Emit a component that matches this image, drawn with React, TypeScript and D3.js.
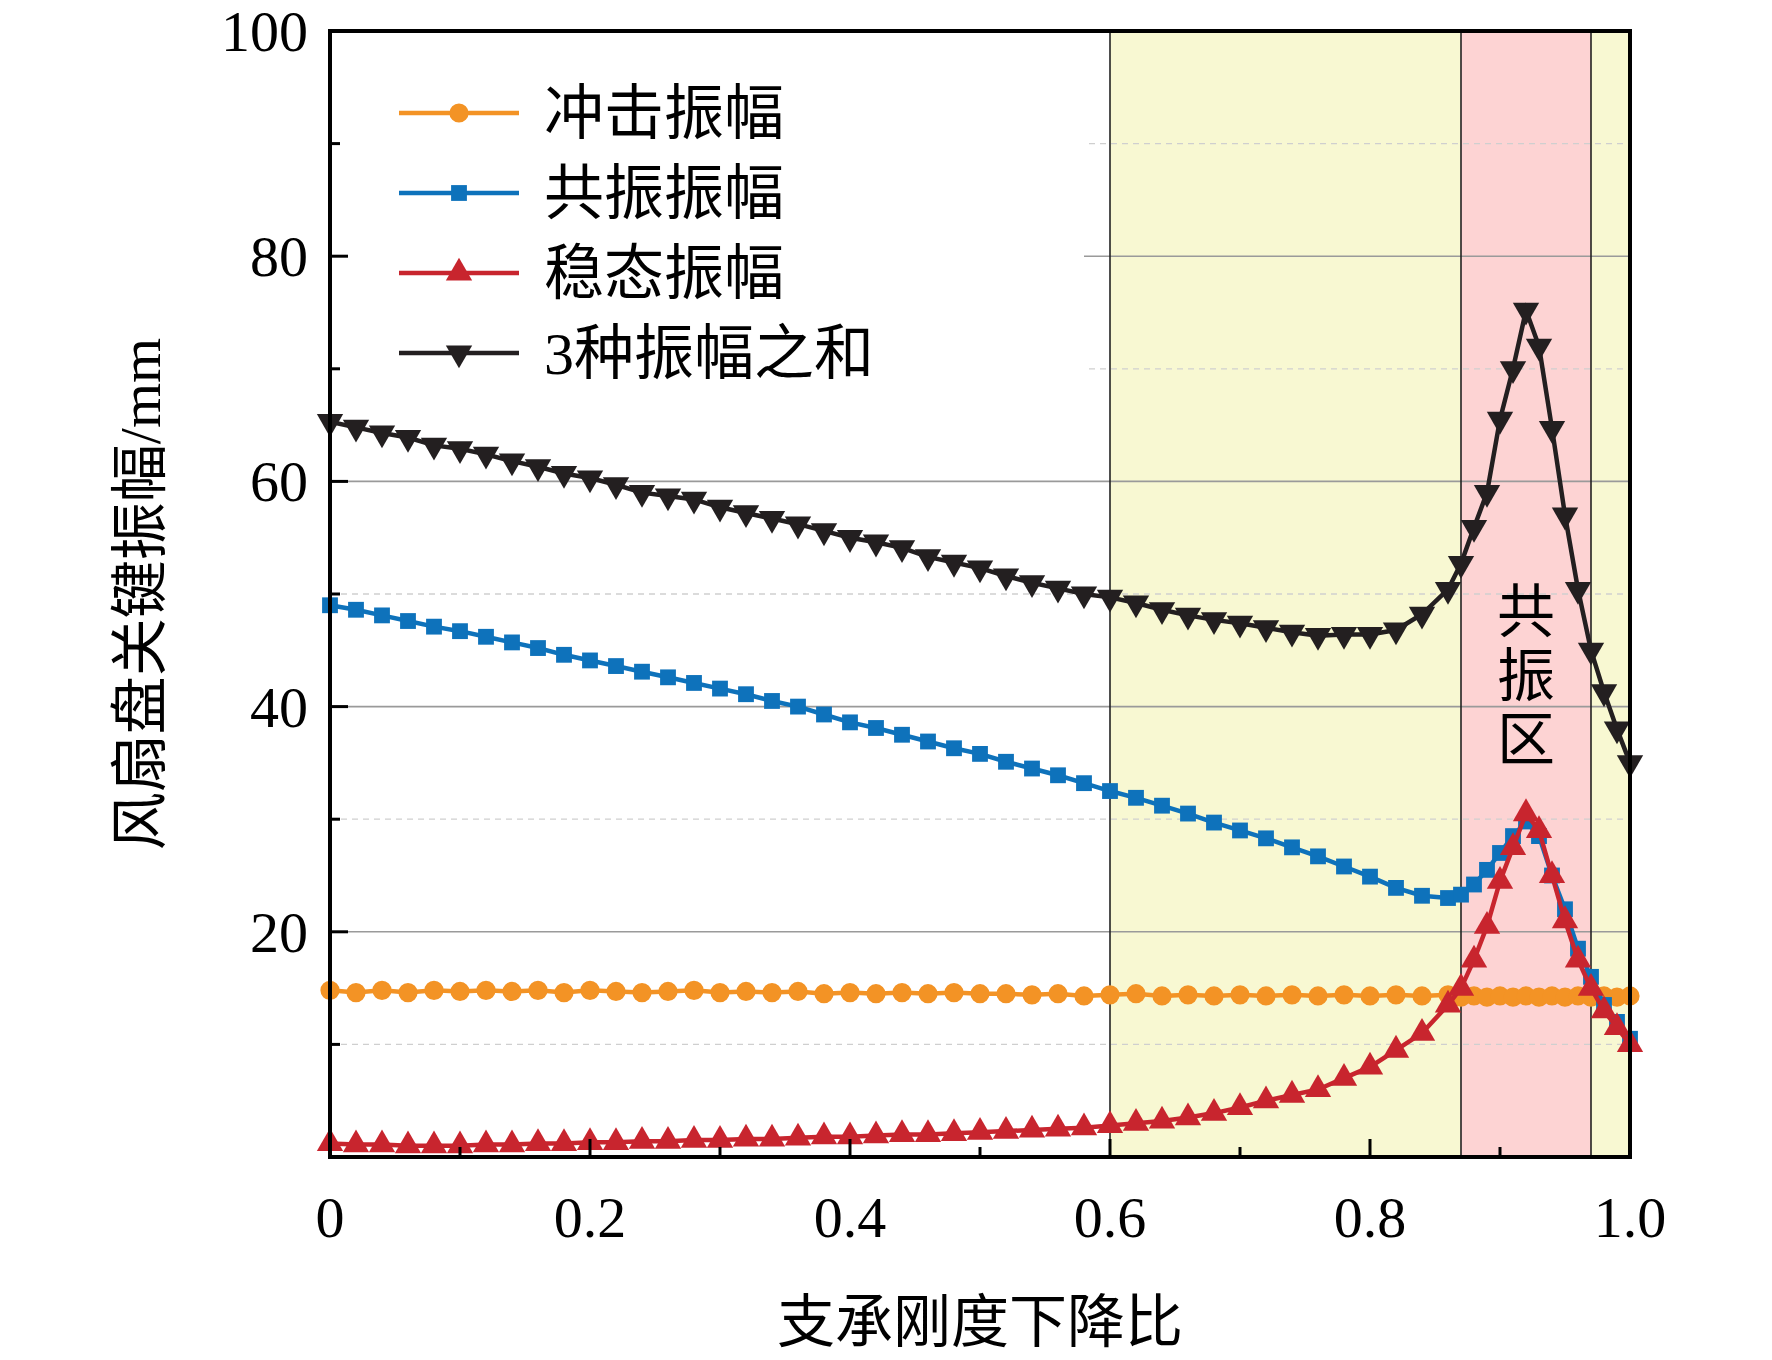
import React from "react";
import * as d3 from "d3";

const xVals = [0,0.02,0.04,0.06,0.08,0.1,0.12,0.14,0.16,0.18,0.2,0.22,0.24,0.26,0.28,0.3,0.32,0.34,0.36,0.38,0.4,0.42,0.44,0.46,0.48,0.5,0.52,0.54,0.56,0.58,0.6,0.62,0.64,0.66,0.68,0.7,0.72,0.74,0.76,0.78,0.8,0.82,0.84,0.86,0.87,0.88,0.89,0.9,0.91,0.92,0.93,0.94,0.95,0.96,0.97,0.98,0.99,1.0];
const impact = [14.8,14.6,14.8,14.6,14.8,14.7,14.8,14.7,14.8,14.6,14.8,14.7,14.6,14.7,14.8,14.6,14.7,14.6,14.7,14.5,14.6,14.5,14.6,14.5,14.6,14.5,14.5,14.4,14.5,14.3,14.4,14.5,14.3,14.4,14.3,14.4,14.3,14.4,14.3,14.4,14.3,14.4,14.3,14.4,14.2,14.3,14.2,14.3,14.2,14.3,14.2,14.3,14.2,14.3,14.2,14.3,14.2,14.3];
const resonance = [49,48.6,48.1,47.6,47.1,46.7,46.2,45.7,45.2,44.6,44.1,43.6,43.1,42.6,42.1,41.6,41.1,40.5,40,39.3,38.6,38.1,37.5,36.9,36.3,35.8,35.1,34.5,33.9,33.2,32.5,31.9,31.2,30.5,29.7,29,28.3,27.5,26.7,25.8,24.9,23.9,23.2,23,23.3,24.2,25.5,27,28.5,29.8,28.5,25,22,18.5,16,13.5,12,10.5];
const steady = [1.2,1.1,1.1,1.0,1.0,1.0,1.1,1.1,1.2,1.2,1.3,1.3,1.4,1.4,1.5,1.5,1.6,1.6,1.7,1.8,1.8,1.9,2.0,2.0,2.1,2.2,2.3,2.4,2.5,2.6,2.8,3.0,3.2,3.5,3.9,4.4,5.0,5.5,6.0,7.0,8.0,9.5,11,13.5,15,17.5,20.5,24.5,27.5,30.5,29,25,21,17.5,15,13,11.5,10];
const total = [65.3,64.8,64.3,63.9,63.2,62.9,62.4,61.8,61.3,60.7,60.3,59.7,59,58.7,58.4,57.7,57.2,56.7,56.2,55.6,55,54.6,54.1,53.3,52.8,52.3,51.6,51,50.5,50,49.7,49.2,48.6,48.1,47.7,47.4,47,46.6,46.3,46.4,46.4,46.8,48.2,50.4,52.7,55.9,59,65.5,70,75.2,72,64.7,57,50.4,45,41.3,38,35];
const seriesNames = ["冲击振幅", "共振振幅", "稳态振幅", "3种振幅之和"];
const xTicks = [0, 0.2, 0.4, 0.6, 0.8, 1.0];
const yTicks = [20, 40, 60, 80, 100];
const yellowZone = [0.6, 1.0];
const pinkZone = [0.87, 0.97];

const L = 330, R = 1630, T = 31, B = 1157;
const x = d3.scaleLinear().domain([0, 1]).range([L, R]);
const y = d3.scaleLinear().domain([0, 100]).range([B, T]);

const colors = ["#f39325", "#0e72bb", "#c8252e", "#231f20"];
const symbols = [d3.symbolCircle, d3.symbolSquare, d3.symbolTriangle, d3.symbolTriangle];
const sizes = [290, 250, 300, 300];
const data = [impact, resonance, steady, total];
const cjk = "'Noto Sans CJK SC', sans-serif";
const serif = "'Liberation Serif', 'Times New Roman', serif";

function Marker({ i, cx, cy }: { i: number; cx: number; cy: number }) {
  const p = d3.symbol().type(symbols[i]).size(sizes[i])()!;
  const rot = i === 3 ? 180 : 0;
  return <path d={p} transform={`translate(${cx},${cy}) rotate(${rot})`} fill={colors[i]} />;
}

export default function App() {
  const line = d3.line<number>().x((_, k) => x(xVals[k])).y((v) => y(v));
  return (
    <svg width={1772} height={1360} style={{ display: "block", background: "#fff", position: "absolute", left: 0, top: 0 }}>
      <rect x={x(yellowZone[0])} y={T} width={x(yellowZone[1]) - x(yellowZone[0])} height={B - T} fill="#f8f8d2" />
      <rect x={x(pinkZone[0])} y={T} width={x(pinkZone[1]) - x(pinkZone[0])} height={B - T} fill="#fdd3d3" />
      {[10, 30, 50, 70, 90].map((v) => (
        <line key={v} x1={L} x2={R} y1={y(v)} y2={y(v)} stroke="#cfcfcf" strokeWidth={1.3} strokeDasharray="6 5" />
      ))}
      {[20, 40, 60, 80].map((v) => (
        <line key={v} x1={L} x2={R} y1={y(v)} y2={y(v)} stroke="#9a9a9a" strokeWidth={1.6} />
      ))}
      <rect x={L + 2} y={T + 2} width={1082 - L} height={391 - T} fill="#fff" />
      {[...yellowZone, ...pinkZone].map((v, k) => (
        <line key={k} x1={x(v)} x2={x(v)} y1={T} y2={B} stroke="#222" strokeWidth={1.6} />
      ))}
      {data.map((arr, i) => (
        <g key={i}>
          <path d={line(arr)!} fill="none" stroke={colors[i]} strokeWidth={4.5} />
          {arr.map((v, k) => <Marker key={k} i={i} cx={x(xVals[k])} cy={y(v)} />)}
        </g>
      ))}
      <rect x={L} y={T} width={R - L} height={B - T} fill="none" stroke="#000" strokeWidth={4} />
      {d3.range(0, 1.0001, 0.1).map((v, k) => (
        <line key={"xt" + k} x1={x(v)} x2={x(v)} y1={B} y2={B - (k % 2 === 0 ? 18 : 10)} stroke="#000" strokeWidth={3} />
      ))}
      {d3.range(0, 101, 10).map((v, k) => (
        <line key={"yt" + k} x1={L} x2={L + (k % 2 === 0 ? 18 : 10)} y1={y(v)} y2={y(v)} stroke="#000" strokeWidth={3} />
      ))}
      {xTicks.map((v) => (
        <text key={v} x={x(v)} y={B + 80} textAnchor="middle" fontFamily={serif} fontSize={58}>{v === 0 ? "0" : v.toFixed(1)}</text>
      ))}
      {yTicks.map((v) => (
        <text key={v} x={L - 22} y={y(v) + 20} textAnchor="end" fontFamily={serif} fontSize={58}>{v}</text>
      ))}
      <text x={(L + R) / 2} y={1342} textAnchor="middle" fontFamily={cjk} fontSize={58}>支承刚度下降比</text>
      <text transform={`translate(160,${(T + B) / 2}) rotate(-90)`} textAnchor="middle" fontFamily={cjk} fontSize={58}>
        风扇盘关键振幅<tspan fontFamily={serif}>/mm</tspan>
      </text>
      {["共", "振", "区"].map((c, k) => (
        <text key={c} x={x(0.92)} y={632 + k * 64} textAnchor="middle" fontFamily={cjk} fontSize={58}>{c}</text>
      ))}
      {seriesNames.map((n, i) => {
        const ly = 113 + i * 80;
        return (
          <g key={n}>
            <line x1={399} x2={519} y1={ly} y2={ly} stroke={colors[i]} strokeWidth={4.5} />
            <Marker i={i} cx={459} cy={ly} />
            <text x={544} y={ly + 21} fontFamily={cjk} fontSize={60}>
              {i === 3 ? <><tspan fontFamily={serif}>3</tspan>种振幅之和</> : n}
            </text>
          </g>
        );
      })}
    </svg>
  );
}
